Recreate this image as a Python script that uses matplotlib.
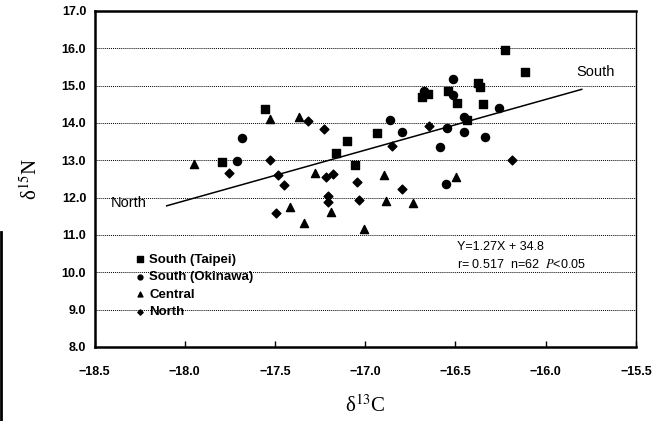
import numpy as np
import matplotlib
matplotlib.use("Agg")
import matplotlib.pyplot as plt
from matplotlib.lines import Line2D

# Datos (d13C, d15N)
taipei_x = [-17.795, -17.555, -17.162, -17.101, -17.055, -16.933, -16.684, -16.651,
            -16.543, -16.493, -16.374, -16.364, -16.346, -16.224, -16.115, -16.436]
taipei_y = [12.96, 14.375, 13.20, 13.52, 12.88, 13.72, 14.70, 14.77,
            14.86, 14.54, 15.08, 14.96, 14.52, 15.96, 15.36, 14.08]

okinawa_x = [-17.684, -17.712, -16.863, -16.794, -16.515, -16.516, -16.674, -16.453,
             -16.544, -16.453, -16.335, -16.256, -16.584, -16.553]
okinawa_y = [13.59, 12.99, 14.09, 13.77, 15.18, 14.75, 14.86, 14.15,
             13.87, 13.75, 13.62, 14.39, 13.35, 12.37]

central_x = [-17.947, -17.528, -17.367, -17.278, -17.419, -17.338, -17.190, -17.005,
             -16.896, -16.887, -16.737, -16.496]
central_y = [12.89, 14.11, 14.15, 12.65, 11.74, 11.32, 11.62, 11.17,
             12.61, 11.90, 11.85, 12.55]

north_x = [-17.528, -17.757, -17.486, -17.448, -17.494, -17.319, -17.227, -17.217,
           -17.177, -17.208, -17.208, -17.047, -17.036, -16.850, -16.798, -16.647, -16.187]
north_y = [13.01, 12.65, 12.61, 12.35, 11.58, 14.05, 13.83, 12.55,
           12.64, 12.03, 11.89, 12.41, 11.94, 13.38, 12.24, 13.91, 13.02]

# Recta de regresion dibujada
linea_x = [-18.10, -15.80]
linea_y = [11.78, 14.90]

x_ticks = [-18.5, -18.0, -17.5, -17.0, -16.5, -16.0, -15.5]
y_ticks = [8.0, 9.0, 10.0, 11.0, 12.0, 13.0, 14.0, 15.0, 16.0, 17.0]

plt.rcParams['font.family'] = ['Liberation Sans', 'DejaVu Sans']
plt.rcParams['mathtext.fontset'] = 'stix'

fig = plt.figure(figsize=(6.61, 4.21), dpi=100)
ax = fig.add_axes([0.143, 0.176, 0.819, 0.798])

for yv in y_ticks[1:-1]:
    ax.axhline(yv, color='black', linestyle=(0, (1, 1)), linewidth=0.7, zorder=0)

ax.plot(linea_x, linea_y, color='black', linewidth=1.1, zorder=2)

ax.scatter(taipei_x, taipei_y, marker='s', s=40, color='black', label='South (Taipei)', zorder=3)
ax.scatter(okinawa_x, okinawa_y, marker='o', s=34, color='black', label='South (Okinawa)', zorder=3)
ax.scatter(central_x, central_y, marker='^', s=34, color='black', label='Central', zorder=3)
ax.scatter(north_x, north_y, marker='D', s=20, color='black', label='North', zorder=3)

ax.set_xlim(-18.5, -15.5)
ax.set_ylim(8.0, 17.0)
ax.set_xticks(x_ticks)
ax.set_yticks(y_ticks)
ax.set_xticklabels([f'{v:.1f}'.replace('-', '\u2212') for v in x_ticks], fontweight='bold', fontsize=9)
ax.set_yticklabels([f'{v:.1f}' for v in y_ticks], fontweight='bold', fontsize=9)
ax.tick_params(axis='both', direction='in', length=4, width=1)
ax.tick_params(axis='x', pad=14)
ax.tick_params(axis='y', pad=6, length=0)

for lado in ['left', 'bottom', 'top']:
    ax.spines[lado].set_linewidth(1.8)
ax.spines['right'].set_linewidth(1.0)

ax.set_xlabel('δ$^{13}$C', fontsize=15, fontfamily='Liberation Serif', labelpad=12)
ax.set_ylabel('δ$^{15}$N', fontsize=15, fontfamily='Liberation Serif', labelpad=14)

ax.text(-18.41, 11.86, 'North', fontsize=10.5, va='center', ha='left')
ax.text(-15.83, 15.37, 'South', fontsize=10.5, va='center', ha='left')
ax.text(-16.49, 10.68, 'Y=1.27X + 34.8', fontsize=9, va='center', ha='left')
ax.text(-16.49, 10.20, r'r= 0.517  n=62  $\it{P}$<0.05', fontsize=9, va='center', ha='left')

leg = ax.legend(loc='upper left', bbox_to_anchor=(0.06, 0.305), frameon=False,
                markerscale=0.6, handlelength=0.6, handletextpad=0.4,
                labelspacing=0.4, borderpad=0.2, prop={'weight': 'bold', 'size': 9.5})

fig.add_artist(Line2D([0.002, 0.002], [0.0, 0.45], color='black', linewidth=2))

fig.savefig('out.png', dpi=100)
